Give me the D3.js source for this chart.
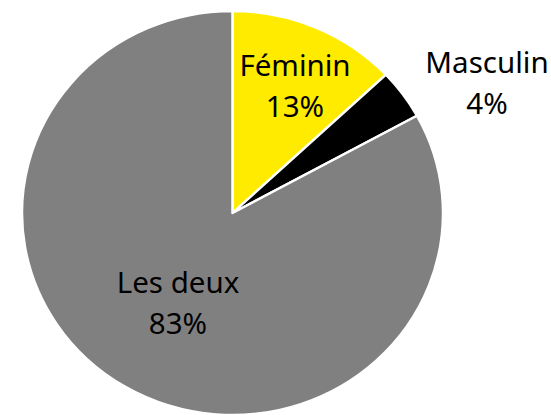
<!DOCTYPE html>
<html>
<head>
<meta charset="utf-8">
<script src="https://cdn.jsdelivr.net/npm/d3@7/dist/d3.min.js"></script>
<style>
  html, body { margin: 0; padding: 0; background: #fff; }
  svg { display: block; }
</style>
</head>
<body>
<svg id="chart" width="551" height="415"></svg>
<script>
const categories = ['Féminin', 'Masculin', 'Les deux'];
const values = [13, 4, 83];
const percentLabels = ['13%', '4%', '83%'];
const colors = ['#FFEB00', '#000000', '#808080'];

// layout: pie centre, radii, label anchors (first baseline, centred)
const CX = 232.5, CY = 213, RX = 210.5, RY = 202;
const labelAnchors = [[295, 76], [487, 73], [178, 293]];
const LINE_GAP = 41;

const svg = d3.select('#chart');

const pie = d3.pie().sort(null).value(d => d);
const arc = d3.arc().innerRadius(0).outerRadius(RX);

const pieGroup = svg.append('g')
  .attr('transform', `translate(${CX},${CY}) scale(1,${RY / RX})`);

pieGroup.selectAll('path')
  .data(pie(values))
  .join('path')
  .attr('d', arc)
  .attr('fill', (d, i) => colors[i])
  .attr('stroke', '#fff')
  .attr('stroke-width', 2.5)
  .attr('stroke-linejoin', 'round');

const labels = svg.append('g').attr('class', 'labels')
  .attr('font-family', '"Noto Sans", "Open Sans", sans-serif')
  .attr('font-size', '29.5px')
  .attr('fill', '#000')
  .attr('text-anchor', 'middle');

categories.forEach((c, i) => {
  const [x, y] = labelAnchors[i];
  const t = labels.append('text').attr('x', x).attr('y', y);
  t.append('tspan').attr('x', x).attr('y', y).text(c);
  t.append('tspan').attr('x', x).attr('y', y + LINE_GAP).text(percentLabels[i]);
});
</script>
</body>
</html>
